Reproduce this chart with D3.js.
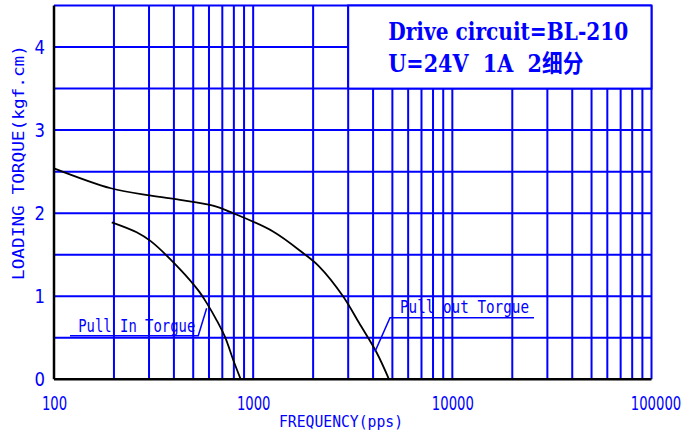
<!DOCTYPE html>
<html>
<head>
<meta charset="utf-8">
<script src="https://cdn.jsdelivr.net/npm/d3@7"></script>
<style>
	body { margin: 0; background: #fff; }
</style>
</head>
<body>
<div id="graph"></div>
<script>
let width = 699;
let height = 433;

let padding = {
	top: 5.5,
	right: 47.5,
	bottom: 53.7,
	left: 54
	};

let blue = "#0000ff";

// Tick labels:
let freqTicks = [100, 1000, 10000, 100000];
let torqueTicks = [0, 1, 2, 3, 4];
let torqueGrid = [0.5, 1, 1.5, 2, 2.5, 3, 3.5, 4, 4.5];

// Pull out torque curve:
let freqOut = [100, 193, 307, 429, 628, 792, 1258, 1780, 2141, 2826, 3400, 4172, 4809];
let torqueOut = [2.54, 2.30, 2.21, 2.16, 2.09, 2.00, 1.78, 1.52, 1.36, 1.00, 0.68, 0.32, 0];

// Pull in torque curve:
let freqIn = [195, 260, 307, 431, 536, 584, 656, 722, 795, 866];
let torqueIn = [1.89, 1.77, 1.66, 1.32, 1.055, 0.92, 0.71, 0.51, 0.23, 0];

let svg = d3.select("#graph")
	.append("svg")
		.attr("width", width)
		.attr("height", height)
		.style("display", "block")
		.style("background", "#fff")
	;

let xScale = d3.scaleLog()
	.domain([100, 100000])
	.range([padding.left, width - padding.right])
	;
let yScale = d3.scaleLinear()
	.domain([0, 4.5])
	.range([height - padding.bottom, padding.top])
	;

let x0 = xScale.range()[0];
let x1 = xScale.range()[1];
let y0 = yScale.range()[0];
let y1 = yScale.range()[1];

// Vertical grid: every 1..9 of each decade
svg.append("g")
	.selectAll("line")
	.data(xScale.ticks().filter(d => d > 100))
	.enter()
		.append("line")
			.attr("x1", d => xScale(d))
			.attr("x2", d => xScale(d))
			.attr("y1", y0)
			.attr("y2", y1)
			.attr("stroke", blue)
			.attr("stroke-width", 2)
	;

// Horizontal grid:
svg.append("g")
	.selectAll("line")
	.data(torqueGrid)
	.enter()
		.append("line")
			.attr("x1", x0)
			.attr("x2", x1)
			.attr("y1", d => yScale(d))
			.attr("y2", d => yScale(d))
			.attr("stroke", blue)
			.attr("stroke-width", 2)
	;

// Info box in upper right, covers the grid:
svg.append("rect")
	.attr("x", xScale(3000))
	.attr("y", yScale(4.5))
	.attr("width", xScale(100000) - xScale(3000))
	.attr("height", yScale(3.5) - yScale(4.5))
	.attr("fill", "#fff")
	.attr("stroke", blue)
	.attr("stroke-width", 2)
	;

svg.append("text")
	.attr("x", xScale(4770))
	.attr("y", yScale(4.08))
	.attr("textLength", 240)
	.attr("lengthAdjust", "spacingAndGlyphs")
	.style("font-family", "'DejaVu Serif', serif")
	.style("font-weight", "bold")
	.style("font-size", "24px")
	.attr("fill", blue)
	.text("Drive circuit=BL-210")
	;
svg.append("text")
	.attr("x", xScale(4770))
	.attr("y", yScale(3.694))
	.attr("textLength", 195)
	.attr("lengthAdjust", "spacingAndGlyphs")
	.style("white-space", "pre")
	.style("font-family", "'DejaVu Serif', 'Noto Sans CJK SC', serif")
	.style("font-weight", "bold")
	.style("font-size", "24px")
	.attr("fill", blue)
	.text("U=24V  1A  2细分")
	;

// Axes (left and bottom in black):
svg.append("line")
	.attr("x1", x0).attr("x2", x0)
	.attr("y1", y0).attr("y2", y1)
	.attr("stroke", "#000")
	.attr("stroke-width", 2.5)
	;
svg.append("line")
	.attr("x1", x0).attr("x2", x1)
	.attr("y1", y0).attr("y2", y0)
	.attr("stroke", "#000")
	.attr("stroke-width", 2.5)
	;

let xAxis = d3.axisBottom(xScale)
	.tickValues(freqTicks)
	.tickFormat(d3.format("d"))
	.tickSize(0)
	;
let yAxis = d3.axisLeft(yScale)
	.tickValues(torqueTicks)
	.tickFormat(d3.format("d"))
	.tickSize(0)
	.tickPadding(9)
	;

// Narrow CAD-like digits: squeeze the text horizontally
let squeeze = 0.66;

svg.append("g")
	.attr("transform", `translate(0, ${y0})`)
	.call(xAxis)
	.call(g => g.select(".domain").remove())
	.selectAll("text")
		// last label sits a bit right of the border in the original
		.attr("x", d => (d === 100000 ? 4 : 0) / squeeze)
		.attr("y", 31)
		.attr("dy", 0)
		.attr("transform", `scale(${squeeze}, 1)`)
		.attr("fill", blue)
		.style("font-family", "'DejaVu Sans', sans-serif")
		.style("font-size", "20px")
	;

svg.append("g")
	.attr("transform", `translate(${x0}, 0)`)
	.call(yAxis)
	.call(g => g.select(".domain").remove())
	.selectAll("text")
		.attr("fill", blue)
		.attr("textLength", 10.5)
		.attr("lengthAdjust", "spacingAndGlyphs")
		.style("font-family", "'DejaVu Sans', sans-serif")
		.style("font-size", "20px")
	;

// Axis titles:
svg.append("text")
	.attr("x", 341)
	.attr("y", 426.5)
	.attr("text-anchor", "middle")
	.attr("textLength", 124)
	.attr("lengthAdjust", "spacingAndGlyphs")
	.attr("fill", blue)
	.style("font-family", "'DejaVu Sans Mono', monospace")
	.style("font-size", "16px")
	.text("FREQUENCY(pps)")
	;
svg.append("text")
	.attr("transform", "translate(23.5, 162.5) rotate(-90)")
	.attr("text-anchor", "middle")
	.attr("textLength", 235)
	.attr("lengthAdjust", "spacingAndGlyphs")
	.attr("fill", blue)
	.style("font-family", "'DejaVu Sans Mono', monospace")
	.style("font-size", "15px")
	.text("LOADING TORQUE(kgf.cm)")
	;

// Curves:
let line = d3.line()
	.x(d => xScale(d[0]))
	.y(d => yScale(d[1]))
	.curve(d3.curveCatmullRom.alpha(0.5))
	;

svg.append("path")
	.datum(d3.zip(freqOut, torqueOut))
	.attr("d", line)
	.attr("fill", "none")
	.attr("stroke", "#000")
	.attr("stroke-width", 1.8)
	;
svg.append("path")
	.datum(d3.zip(freqIn, torqueIn))
	.attr("d", line)
	.attr("fill", "none")
	.attr("stroke", "#000")
	.attr("stroke-width", 1.8)
	;

// Curve labels with leader lines:
let leader = d3.line()
	.x(d => xScale(d[0]))
	.y(d => yScale(d[1]))
	;

svg.append("path")
	.datum([[120.3, 0.525], [530, 0.525], [584, 0.855]])
	.attr("d", leader)
	.attr("fill", "none")
	.attr("stroke", blue)
	.attr("stroke-width", 1.5)
	;
svg.append("text")
	.attr("x", xScale(132.4))
	.attr("y", yScale(0.566))
	.attr("textLength", 117)
	.attr("lengthAdjust", "spacingAndGlyphs")
	.attr("fill", blue)
	.style("font-family", "'DejaVu Sans Mono', monospace")
	.style("font-size", "17px")
	.text("Pull In Torgue")
	;

svg.append("path")
	.datum([[4090, 0.333], [4864, 0.742], [25700, 0.742]])
	.attr("d", leader)
	.attr("fill", "none")
	.attr("stroke", blue)
	.attr("stroke-width", 1.5)
	;
svg.append("text")
	.attr("x", xScale(5460))
	.attr("y", yScale(0.802))
	.attr("textLength", 129)
	.attr("lengthAdjust", "spacingAndGlyphs")
	.attr("fill", blue)
	.style("font-family", "'DejaVu Sans Mono', monospace")
	.style("font-size", "17px")
	.text("Pull out Torgue")
	;
</script>
</body>
</html>
